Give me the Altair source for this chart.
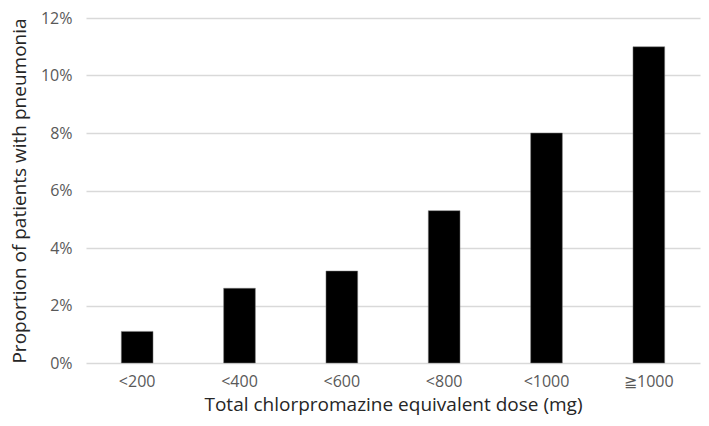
import altair as alt
import pandas as pd

categories = ["<200", "<400", "<600", "<800", "<1000", "≧1000"]
values = [0.011, 0.026, 0.032, 0.053, 0.080, 0.110]

df = pd.DataFrame({"dose": categories, "prop": values})

chart = alt.Chart(df).mark_bar(color="black", stroke="#7f7f7f", strokeWidth=0.5).encode(
    x=alt.X("dose:N", sort=categories,
            scale=alt.Scale(paddingInner=0.69, paddingOuter=0.345),
            axis=alt.Axis(title="Total chlorpromazine equivalent dose (mg)", labelAngle=0,
                          ticks=False, domain=False, labelPadding=10, titlePadding=6,
                          labelFontSize=16, titleFontSize=19, labelColor="#595959",
                          titleColor="#262626", labelFont="Open Sans", titleFont="Open Sans",
                          titleFontWeight="normal")),
    y=alt.Y("prop:Q", scale=alt.Scale(domain=[0, 0.12]),
            axis=alt.Axis(title="Proportion of patients with pneumonia", format=".0%",
                          values=[0, 0.02, 0.04, 0.06, 0.08, 0.10, 0.12],
                          ticks=False, domain=False, labelPadding=14, titlePadding=11,
                          labelFontSize=16, titleFontSize=19, labelColor="#595959",
                          titleColor="#262626", labelFont="Open Sans", titleFont="Open Sans",
                          titleFontWeight="normal", gridColor="#d9d9d9", gridWidth=1.5)),
).properties(
    width=614, height=345,
    autosize=alt.AutoSizeParams(type="none"),
    padding={"left": 78, "top": 10, "right": 1, "bottom": 55},
).configure_view(stroke=None)

chart.save("out.html", embed_options={"renderer": "svg", "actions": False})
